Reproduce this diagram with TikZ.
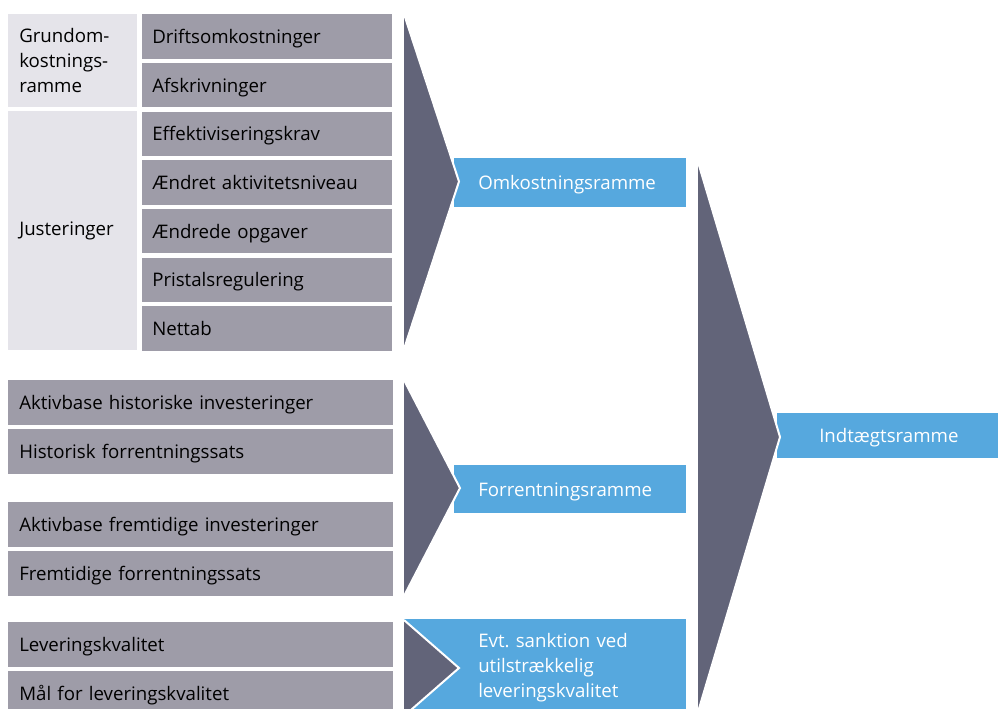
\documentclass[tikz,border=0pt]{standalone}
\usepackage{fontspec}
\setmainfont{Open Sans}
\frenchspacing
\definecolor{postgray}{RGB}{158,156,168}
\definecolor{grouplight}{RGB}{229,228,234}
\definecolor{arrowdark}{RGB}{98,100,121}
\definecolor{rammeblue}{RGB}{86,168,222}
\begin{document}
\begin{tikzpicture}[x=0.75pt, y=-0.75pt]
  \tikzstyle{every node}=[rectangle, anchor=north west, align=left, inner ysep=2pt, font=\fontsize{14}{18.75}\selectfont]
  \tikzstyle{post}=[fill=postgray, minimum width=187.5pt, minimum height=33.4pt, text width=172.5pt, inner xsep=7.5pt, text height=10.4pt, text depth=0pt]
  \tikzstyle{widepost}=[post, minimum width=288.75pt, text width=272.25pt, inner xsep=8.25pt]
  \tikzstyle{group}=[fill=grouplight, minimum width=96.75pt, text width=80.25pt, inner xsep=8.25pt]
  \tikzstyle{ramme}=[fill=rammeblue, text=white, minimum width=174pt, minimum height=36.75pt, text width=138pt, inner xsep=18pt, text height=10.4pt, text depth=0pt]
  \tikzstyle{chevron}=[fill=arrowdark]
  \tikzstyle{gap}=[draw=white, line width=1.5pt, line join=miter]
  \useasboundingbox (0,0) rectangle (998,708);
  \clip (0,0) rectangle (998,708);
  \node[group, minimum height=69.75pt] (grund) at (8,14) {Grundom-\\kostnings-\\ramme};
  \node[group, minimum height=179.25pt] (just) at (8,111) {Justeringer};
  \node[post] (drift) at (142,14) {Driftsomkostninger};
  \node[post] (afskr) at (142,62.67) {Afskrivninger};
  \node[post] (effekt) at (142,111.33) {Effektiviseringskrav};
  \node[post] (niveau) at (142,160) {Ændret aktivitetsniveau};
  \node[post] (opgaver) at (142,208.67) {Ændrede opgaver};
  \node[post] (pristal) at (142,257.33) {Pristalsregulering};
  \node[post] (nettab) at (142,306) {Nettab};
  \node[widepost] (akthist) at (8,380) {Aktivbase historiske investeringer};
  \node[widepost] (sathist) at (8,429) {Historisk forrentningssats};
  \node[widepost] (aktfrem) at (8,502) {Aktivbase fremtidige investeringer};
  \node[widepost] (satfrem) at (8,551) {Fremtidige forrentningssats};
  \node[widepost] (lev) at (8,622) {Leveringskvalitet};
  \node[widepost] (maal) at (8,671) {Mål for leveringskvalitet};
  \node[ramme] (omk) at (454,158) {Omkostningsramme};
  \node[ramme, minimum height=36pt] (forr) at (454,465) {Forrentningsramme};
  \fill[rammeblue] (404,619) rectangle (456,716);
  \node[ramme, minimum height=72.75pt, text height=, text depth=] (sank) at (454,619) {Evt. sanktion ved\\utilstrækkelig\\leveringskvalitet};
  \node[ramme, minimum width=197.25pt, minimum height=33.75pt, text width=134.25pt, inner xsep=31.5pt] (indt) at (777,413) {Indtægtsramme};
  \fill[chevron] (404,14) -- (459,181.5) -- (404,349) -- cycle;
  \draw[gap] (404,14) -- (459,181.5) -- (404,349);
  \fill[chevron] (404,380) -- (460,488) -- (404,596) -- cycle;
  \draw[gap] (404,380) -- (460,488) -- (404,596);
  \fill[chevron] (404,620) -- (459,668) -- (404,716) -- cycle;
  \draw[gap] (404,620) -- (459,668) -- (404,716);
  \fill[chevron] (698,162) -- (780,437) -- (698,712) -- cycle;
  \draw[gap] (698,162) -- (780,437) -- (698,712);
\end{tikzpicture}
\end{document}
